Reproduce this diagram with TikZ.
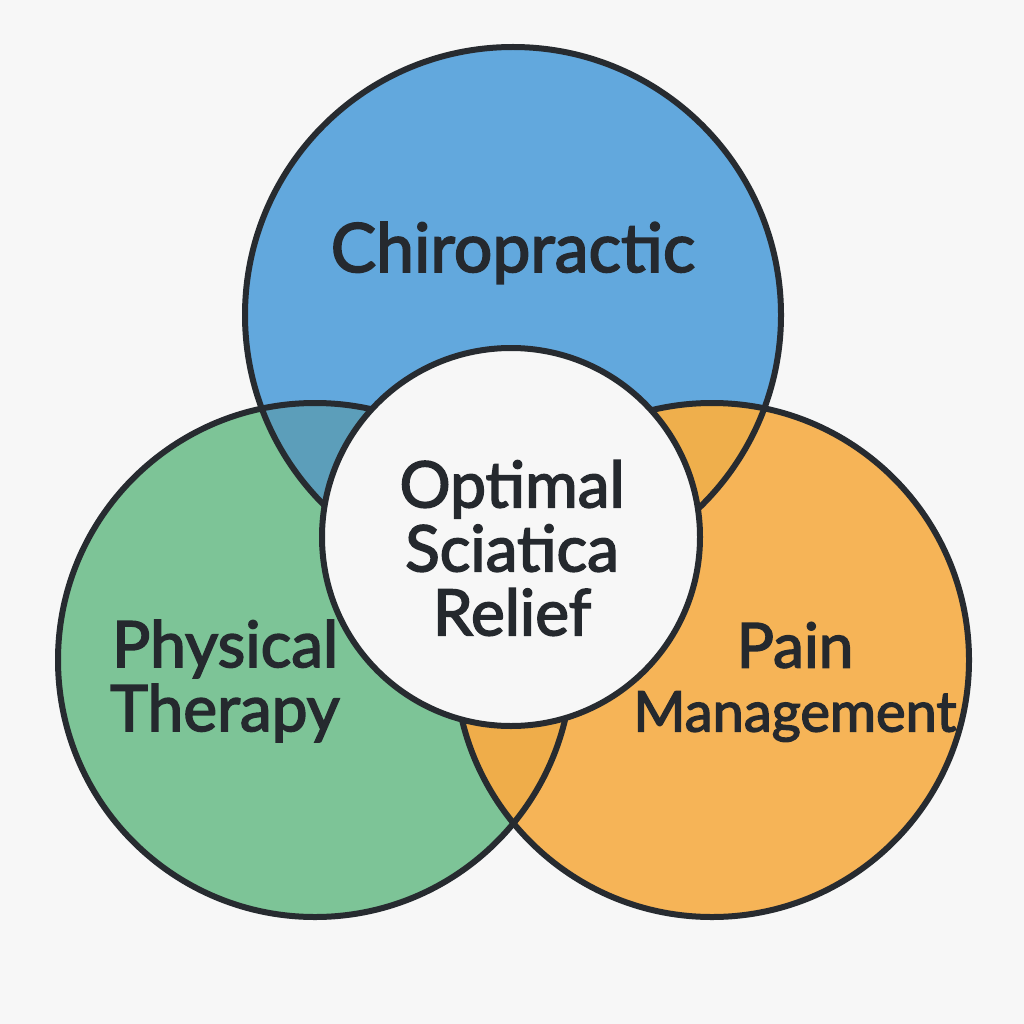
\documentclass[tikz,border=0pt]{standalone}
\usepackage{fontspec}
\newfontfamily\lbl{Lato}[FakeBold=2.5]
\definecolor{bgc}{HTML}{F7F7F7}
\definecolor{cblue}{HTML}{62A8DD}
\definecolor{cgreen}{HTML}{7DC497}
\definecolor{corange}{HTML}{F6B457}
\definecolor{cbg}{HTML}{5C9EBA}
\definecolor{cbo}{HTML}{EFAF4C}
\definecolor{cgo}{HTML}{EFAD4A}
\definecolor{ink}{HTML}{272B30}
\definecolor{txt}{HTML}{25292E}
\newcommand{\fs}[1]{\fontsize{#1}{64}\selectfont}
\begin{document}
\begin{tikzpicture}[x=1pt,y=-1pt,
  ring/.style={circle,draw=ink,line width=6pt,inner sep=0pt},
  lab/.style={text=txt,font=\lbl\fs{62},align=center,inner sep=0pt}]
\fill[bgc] (0,0) rectangle (1024,1024);
\useasboundingbox (0,0) rectangle (1024,1024);
% circle fills
\node[circle,fill=cgreen,minimum size=514pt,inner sep=0pt] (pt) at (315,660) {};
\node[circle,fill=corange,minimum size=514pt,inner sep=0pt] (pm) at (712,660) {};
\node[circle,fill=cblue,minimum size=536pt,inner sep=0pt] (ch) at (513,315) {};
% overlaps
\begin{scope}
  \clip (513,315) circle (268pt);
  \fill[cbg] (315,660) circle (257pt);
  \fill[cbo] (712,660) circle (257pt);
\end{scope}
\begin{scope}
  \clip (315,660) circle (257pt);
  \fill[cgo] (712,660) circle (257pt);
\end{scope}
% outlines
\node[ring,minimum size=514pt] (ptr) at (pt) {};
\node[ring,minimum size=514pt] (pmr) at (pm) {};
\node[ring,minimum size=536pt] (chr) at (ch) {};
% centre
\node[ring,fill=bgc,minimum size=378pt] (osr) at (511,537) {};
% labels
\node[lab,anchor=base,font=\lbl\fs{68}] (tch) at (513,272) {Chiropractic};
\node[lab,font=\lbl\fs{64}] (tos) at (512,548) {Optimal\\Sciatica\\Relief};
\node[lab,font=\lbl\fs{64}] (tpt) at (225,681) {Physical\\Therapy};
\node[lab] (tpm) at (795,682) {\fs{62}Pain\\\fs{56}Management};
\end{tikzpicture}
\end{document}
